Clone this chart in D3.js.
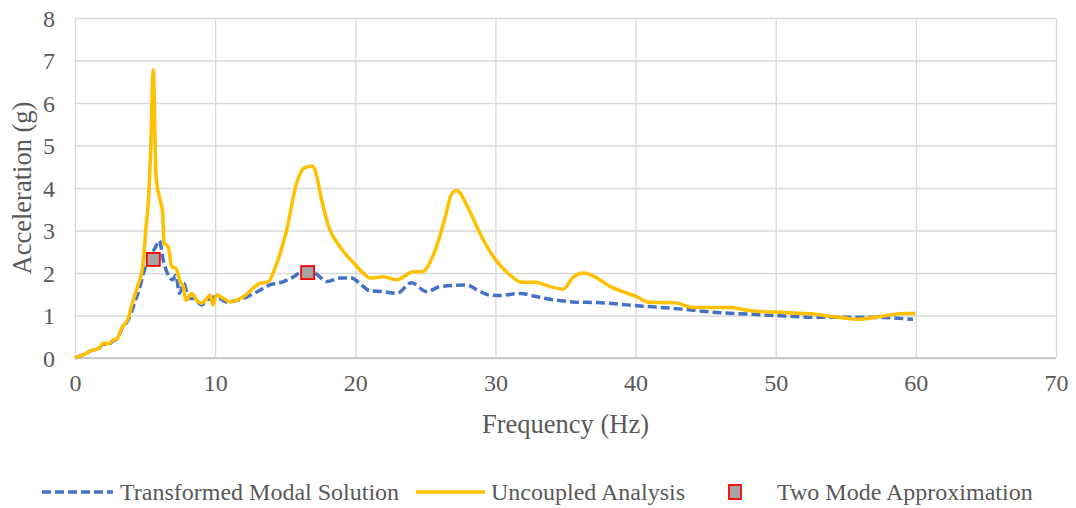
<!DOCTYPE html>
<html>
<head>
<meta charset="utf-8">
<script src="https://cdn.jsdelivr.net/npm/d3@7"></script>
<style>
    body { margin: 0; background: #fff; }
    text { font-family: "Liberation Serif", "Times New Roman", serif; fill: #595959; }
</style>
</head>
<body>
<script>
// frequency (Hz) and acceleration (g)

// Uncoupled Analysis (solid yellow)
var uncFreq = [0, 0.6, 1.3, 1.7, 2.0, 2.4, 2.7, 3.0, 3.33, 3.8, 4.05, 4.5, 4.83, 5.07, 5.23, 5.4, 5.59,
    5.78, 6.07, 6.26, 6.35, 6.66, 6.9, 7.2, 7.5, 7.73, 7.92, 8.33, 8.68, 9.04, 9.5, 9.64, 9.83, 10.1,
    10.6, 11.06, 12.0, 13.1, 13.8, 14.4, 15.1, 15.8, 16.3, 16.9, 17.13, 17.6, 18.1, 18.9, 19.9, 20.6,
    21.06, 22.0, 22.96, 24.15, 24.75, 25.6, 26.3, 26.9, 27.24, 28.07, 28.9, 29.86, 31.05, 31.9, 32.8,
    33.9, 34.85, 35.57, 36.3, 37.1, 38.2, 39.1, 40.1, 41.0, 42.8, 44.1, 46.75, 48.2, 50.6, 52.5, 54.4,
    55.9, 57.7, 59.1, 59.96];
var uncAcc = [0, 0.08, 0.19, 0.22, 0.35, 0.33, 0.42, 0.45, 0.7, 0.94, 1.25, 1.72, 2.15, 3.09, 3.64, 4.9, 6.78,
    4.27, 3.72, 3.41, 2.7, 2.62, 2.15, 2.11, 1.8, 1.68, 1.36, 1.52, 1.36, 1.29, 1.44, 1.48, 1.25, 1.48,
    1.4, 1.32, 1.44, 1.74, 1.8, 2.23, 3.0, 4.1, 4.46, 4.52, 4.42, 3.72, 3.09, 2.62, 2.23, 1.99,
    1.88, 1.91, 1.84, 2.03, 2.03, 2.45, 3.17, 3.87, 3.94, 3.52, 2.93, 2.38, 1.95, 1.78, 1.78,
    1.68, 1.62, 1.91, 2.0, 1.91, 1.68, 1.56, 1.44, 1.31, 1.3, 1.19, 1.19, 1.11, 1.07, 1.04, 0.96,
    0.91, 0.99, 1.05, 1.05];

// Transformed Modal Solution (dashed blue)
var tmsFreq = [0, 0.6, 1.3, 1.7, 2.0, 2.4, 2.7, 3.0, 3.33, 3.8, 4.28, 4.64, 4.88, 5.23, 5.7, 6.02, 6.3,
    6.6, 6.97, 7.2, 7.45, 7.78, 8.09, 8.45, 9.04, 9.4, 10.1, 10.8, 12.0, 13.0, 13.9, 14.9, 15.6, 16.2,
    17.13, 17.97, 18.9, 19.75, 20.3, 21.06, 22.0, 22.96, 24.0, 25.1, 26.05, 27.95, 28.7, 29.6, 30.3,
    31.76, 32.7, 33.9, 35.57, 37.5, 39.4, 41.0, 43.3, 45.8, 48.2, 50.6, 52.9, 55.3, 57.7, 59.8];
var tmsAcc = [0, 0.08, 0.19, 0.22, 0.33, 0.32, 0.4, 0.45, 0.68, 0.9, 1.32, 1.68, 1.99, 2.3, 2.58, 2.76, 2.3,
    1.99, 1.84, 1.95, 1.52, 1.76, 1.4, 1.4, 1.25, 1.36, 1.44, 1.32, 1.4, 1.56, 1.72, 1.8, 1.91, 2.03,
    1.99, 1.8, 1.88, 1.88, 1.76, 1.58, 1.56, 1.52, 1.77, 1.56, 1.68, 1.72, 1.6, 1.48, 1.47,
    1.52, 1.46, 1.38, 1.32, 1.3, 1.25, 1.21, 1.15, 1.07, 1.03, 0.99, 0.96, 0.96, 0.95, 0.91];

// Two Mode Approximation (markers)
var tmaFreq = [5.59, 16.6];
var tmaAcc = [2.32, 2.01];

// tick labels
var xTicks = [0, 10, 20, 30, 40, 50, 60, 70];
var yTicks = [0, 1, 2, 3, 4, 5, 6, 7, 8];

var legendNames = ["Transformed Modal Solution", "Uncoupled Analysis", "Two Mode Approximation"];

window.onload = function(){
    var w = 1076, h = 508;

    var svg = d3.select("body")
        .append("svg")
        .attr("width", w)
        .attr("height", h);

    //plot area scales
    var x = d3.scaleLinear()
        .domain([0, 70])
        .range([75, 1056]);

    var y = d3.scaleLinear()
        .domain([0, 8])
        .range([358, 18]);

    //horizontal gridlines
    svg.append("g")
        .attr("class", "ygrid")
        .attr("transform", "translate(75,0)")
        .call(d3.axisLeft(y).tickValues(yTicks).tickSize(-(1056 - 75)).tickFormat(""))
        .call(function(g){ g.select(".domain").remove(); })
        .selectAll("line")
        .attr("stroke", "#D9D9D9")
        .attr("stroke-width", 1.3);

    //vertical gridlines
    svg.append("g")
        .attr("class", "xgrid")
        .attr("transform", "translate(0,358)")
        .call(d3.axisBottom(x).tickValues(xTicks).tickSize(-(358 - 18)).tickFormat(""))
        .call(function(g){ g.select(".domain").remove(); })
        .selectAll("line")
        .attr("stroke", "#D9D9D9")
        .attr("stroke-width", 1.3);

    //bottom axis line
    svg.append("line")
        .attr("x1", x(0))
        .attr("x2", x(70))
        .attr("y1", y(0))
        .attr("y2", y(0))
        .attr("stroke", "#BFBFBF")
        .attr("stroke-width", 1.6);

    //tick labels
    var xAxis = svg.append("g")
        .attr("transform", "translate(0,358)")
        .call(d3.axisBottom(x).tickValues(xTicks).tickSize(0).tickPadding(0));
    xAxis.select(".domain").remove();
    xAxis.selectAll("text")
        .attr("y", 33)
        .attr("dy", 0)
        .style("font-size", "24px")
        .style("font-family", "Liberation Serif")
        .attr("fill", "#595959");

    var yAxis = svg.append("g")
        .attr("transform", "translate(75,0)")
        .call(d3.axisLeft(y).tickValues(yTicks).tickSize(0).tickPadding(0));
    yAxis.select(".domain").remove();
    yAxis.selectAll("text")
        .attr("x", -20)
        .attr("dy", 8)
        .style("font-size", "24px")
        .style("font-family", "Liberation Serif")
        .attr("fill", "#595959");

    //axis titles
    svg.append("text")
        .attr("x", (75 + 1056) / 2)
        .attr("y", 433)
        .attr("text-anchor", "middle")
        .style("font-size", "26.5px")
        .text("Frequency (Hz)");

    svg.append("text")
        .attr("transform", "translate(31,188) rotate(-90)")
        .attr("text-anchor", "middle")
        .style("font-size", "26.5px")
        .text("Acceleration (g)");

    //line generator, smoothed like the original
    var line = d3.line()
        .x(function(d){ return x(d[0]); })
        .y(function(d){ return y(d[1]); })
        .curve(d3.curveMonotoneX);

    var tmsData = d3.zip(tmsFreq, tmsAcc);
    var uncData = d3.zip(uncFreq, uncAcc);

    svg.append("path")
        .datum(tmsData)
        .attr("class", "tms")
        .attr("d", line)
        .attr("fill", "none")
        .attr("stroke", "#4472C4")
        .attr("stroke-width", 3.5)
        .attr("stroke-dasharray", "9,4");

    svg.append("path")
        .datum(uncData)
        .attr("class", "unc")
        .attr("d", line)
        .attr("fill", "none")
        .attr("stroke", "#FFC000")
        .attr("stroke-width", 3.5)
        .attr("stroke-linejoin", "round");

    //two mode markers
    svg.selectAll(".tma")
        .data(d3.zip(tmaFreq, tmaAcc))
        .enter()
        .append("rect")
        .attr("class", "tma")
        .attr("x", function(d){ return x(d[0]) - 6.5; })
        .attr("y", function(d){ return y(d[1]) - 6.5; })
        .attr("width", 13)
        .attr("height", 13)
        .attr("fill", "#A5A5A5")
        .attr("stroke", "#FF0000")
        .attr("stroke-width", 1.8);

    //legend
    var ly = 492;
    svg.append("line")
        .attr("x1", 42).attr("x2", 113)
        .attr("y1", ly).attr("y2", ly)
        .attr("stroke", "#4472C4")
        .attr("stroke-width", 3.5)
        .attr("stroke-dasharray", "9,4");
    svg.append("text")
        .attr("x", 120).attr("y", ly + 8)
        .style("font-size", "24px")
        .text(legendNames[0]);

    svg.append("line")
        .attr("x1", 416).attr("x2", 485)
        .attr("y1", ly).attr("y2", ly)
        .attr("stroke", "#FFC000")
        .attr("stroke-width", 3.5);
    svg.append("text")
        .attr("x", 491).attr("y", ly + 8)
        .style("font-size", "24px")
        .text(legendNames[1]);

    svg.append("rect")
        .attr("x", 729).attr("y", ly - 7)
        .attr("width", 12).attr("height", 14)
        .attr("fill", "#A5A5A5")
        .attr("stroke", "#FF0000")
        .attr("stroke-width", 1.8);
    svg.append("text")
        .attr("x", 777).attr("y", ly + 8)
        .style("font-size", "24px")
        .text(legendNames[2]);
};
</script>
</body>
</html>
